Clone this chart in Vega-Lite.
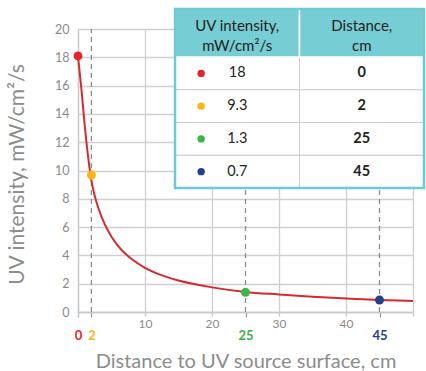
{
  "$schema": "https://vega.github.io/schema/vega-lite/v6.json",
  "width": 335,
  "height": 283,
  "autosize": {"type": "none"},
  "padding": {"left": 78, "top": 29, "right": 13, "bottom": 59},
  "background": "white",
  "config": {
    "font": "Lato",
    "view": {"stroke": null},
    "text": {"font": "Lato"},
    "axisY": {
      "values": [0, 2, 4, 6, 8, 10, 12, 14, 16, 18, 20], "grid": true,
      "gridColor": "#cfcfcf", "gridWidth": 1.3, "domain": true, "domainColor": "#c8c8c8",
      "domainWidth": 1.3, "ticks": false, "labelPadding": 9, "labelFontSize": 12.5,
      "labelOverlap": false, "labelFlush": false, "labelColor": "#8a8a8a",
      "titleFontSize": 21, "titleColor": "#8c8c8c", "titleFontWeight": "normal", "titleAngle": -90,
      "titleBaseline": "alphabetic", "titleX": -55, "titleY": 145, "titleAlign": "center"
    }
  },
  "datasets": {
    "curve": [
      {"d": 0, "uv": 18.05}, {"d": 0.5, "uv": 15.8}, {"d": 1, "uv": 13.2}, {"d": 1.5, "uv": 11.0},
      {"d": 2, "uv": 9.3}, {"d": 2.5, "uv": 8.2}, {"d": 3, "uv": 7.4}, {"d": 4, "uv": 6.19},
      {"d": 5, "uv": 5.32}, {"d": 6, "uv": 4.66}, {"d": 7, "uv": 4.15}, {"d": 8, "uv": 3.74},
      {"d": 10, "uv": 3.12}, {"d": 12, "uv": 2.68}, {"d": 15, "uv": 2.23}, {"d": 20, "uv": 1.74},
      {"d": 25, "uv": 1.42}, {"d": 30, "uv": 1.24}, {"d": 35, "uv": 1.08}, {"d": 40, "uv": 0.96},
      {"d": 45, "uv": 0.85}, {"d": 50, "uv": 0.78}
    ],
    "markers": [
      {"distance": 0, "uv": 18.1}, {"distance": 2, "uv": 9.68},
      {"distance": 25, "uv": 1.39}, {"distance": 45, "uv": 0.85}
    ],
    "table": [
      {"uv": "18", "distance": 0}, {"uv": "9.3", "distance": 2},
      {"uv": "1.3", "distance": 25}, {"uv": "0.7", "distance": 45}
    ],
    "header": [{"h": "header", "c1": "UV intensity,\nmW/cm²/s", "c2": "Distance,\ncm"}],
    "frame": [{"f": "table"}]
  },
  "layer": [
    {
      "layer": [
        {
          "data": {"name": "markers"},
          "transform": [{"filter": "datum.distance > 0"}],
          "mark": {"type": "rule", "color": "#8c8c8c", "strokeWidth": 1.3, "strokeDash": [5, 4]},
          "encoding": {
            "x": {
              "field": "distance", "type": "quantitative",
              "axis": {
                "orient": "bottom", "values": [0, 2, 25, 45], "grid": false, "domain": false,
                "ticks": true, "tickSize": 5, "tickColor": "#9a9a9a", "tickWidth": 1.2,
                "labelFontSize": 13, "labelFontWeight": "bold", "labelPadding": 12,
                "labelFlush": false, "labelOverlap": false,
                "labelColor": {
                  "condition": [
                    {"test": "datum.value == 0", "value": "#e0262c"},
                    {"test": "datum.value == 2", "value": "#fbb416"},
                    {"test": "datum.value == 25", "value": "#3cae49"}
                  ],
                  "value": "#22408e"
                },
                "title": "Distance to UV source surface, cm", "titleFontSize": 20,
                "titleColor": "#8c8c8c", "titleFontWeight": "normal",
                "titleBaseline": "alphabetic", "titleY": 55
              }
            },
            "y": {"datum": 0, "type": "quantitative", "title": "UV intensity, mW/cm²/s"},
            "y2": {"datum": 20}
          }
        },
        {
          "data": {"name": "curve"},
          "mark": {"type": "line", "color": "#d42a2f", "strokeWidth": 2, "interpolate": "monotone"},
          "encoding": {
            "x": {
              "field": "d", "type": "quantitative", "scale": {"domain": [0, 50], "nice": false},
              "axis": {
                "orient": "bottom", "values": [0, 10, 20, 30, 40, 50], "grid": true,
                "gridColor": "#cfcfcf", "gridWidth": 1.3, "domainColor": "#c8c8c8", "domainWidth": 1.3,
                "tickColor": "#c8c8c8", "tickSize": 4, "tickWidth": 1.3,
                "labelExpr": "datum.value > 0 && datum.value < 50 ? datum.label : ''",
                "labelFontSize": 12, "labelColor": "#8a8a8a", "labelPadding": 2,
                "labelFlush": false, "title": null
              }
            },
            "y": {
              "field": "uv", "type": "quantitative", "scale": {"domain": [0, 20], "nice": false},
              "title": "UV intensity, mW/cm²/s"
            }
          }
        },
        {
          "data": {"name": "markers"},
          "mark": {"type": "point", "filled": true, "opacity": 1, "size": 80},
          "encoding": {
            "x": {"field": "distance", "type": "quantitative", "axis": null},
            "y": {"field": "uv", "type": "quantitative", "title": "UV intensity, mW/cm²/s"},
            "color": {
              "field": "distance", "type": "nominal", "legend": null,
              "scale": {"domain": [0, 2, 25, 45], "range": ["#e8212b", "#fdb515", "#3cb64b", "#233f8f"]}
            }
          }
        }
      ],
      "resolve": {"axis": {"x": "independent"}}
    },
    {
      "data": {"name": "table"},
      "layer": [
        {
          "mark": {"type": "rect", "fill": "white", "stroke": "#cccccc", "strokeWidth": 1},
          "encoding": {
            "x": {"datum": 0, "type": "quantitative", "scale": {"domain": [0, 2], "range": [97, 346]}, "axis": null},
            "x2": {"datum": 1},
            "y": {"field": "uv", "type": "nominal", "scale": {"type": "band", "domain": ["18", "9.3", "1.3", "0.7"], "range": [28, 159], "paddingInner": 0, "paddingOuter": 0}, "axis": null}
          }
        },
        {
          "mark": {"type": "rect", "fill": "white", "stroke": "#cccccc", "strokeWidth": 1},
          "encoding": {
            "x": {"datum": 1, "type": "quantitative"},
            "x2": {"datum": 2},
            "y": {"field": "uv", "type": "nominal"}
          }
        },
        {
          "mark": {"type": "point", "filled": true, "opacity": 1, "size": 55},
          "encoding": {
            "x": {"datum": 0.21, "type": "quantitative"},
            "y": {"field": "uv", "type": "nominal"},
            "color": {"field": "distance", "type": "nominal", "legend": null}
          }
        },
        {
          "mark": {"type": "text", "fontSize": 14.5, "color": "#231f20", "baseline": "middle"},
          "encoding": {
            "x": {"datum": 0.5, "type": "quantitative"},
            "y": {"field": "uv", "type": "nominal"},
            "text": {"field": "uv"}
          }
        },
        {
          "mark": {"type": "text", "fontSize": 14.5, "fontWeight": "bold", "color": "#231f20", "baseline": "middle"},
          "encoding": {
            "x": {"datum": 1.5, "type": "quantitative"},
            "y": {"field": "uv", "type": "nominal"},
            "text": {"field": "distance"}
          }
        }
      ]
    },
    {
      "data": {"name": "header"},
      "layer": [
        {
          "mark": {"type": "rect", "fill": "#76cdd4", "stroke": "white", "strokeWidth": 1.5},
          "encoding": {
            "x": {"datum": 0, "type": "quantitative", "scale": {"domain": [0, 2], "range": [97, 346]}, "axis": null},
            "x2": {"datum": 1},
            "y": {"field": "h", "type": "nominal", "scale": {"type": "band", "domain": ["header"], "range": [-20, 28], "paddingInner": 0, "paddingOuter": 0}, "axis": null}
          }
        },
        {
          "mark": {"type": "rect", "fill": "#76cdd4", "stroke": "white", "strokeWidth": 1.5},
          "encoding": {
            "x": {"datum": 1, "type": "quantitative"},
            "x2": {"datum": 2},
            "y": {"field": "h", "type": "nominal"}
          }
        },
        {
          "mark": {"type": "text", "fontSize": 15, "color": "#231f20", "baseline": "middle", "lineBreak": "\n", "lineHeight": 20, "dy": -7},
          "encoding": {
            "x": {"datum": 0.5, "type": "quantitative"},
            "y": {"field": "h", "type": "nominal"},
            "text": {"field": "c1"}
          }
        },
        {
          "mark": {"type": "text", "fontSize": 15, "color": "#231f20", "baseline": "middle", "lineBreak": "\n", "lineHeight": 20, "dy": -7},
          "encoding": {
            "x": {"datum": 1.5, "type": "quantitative"},
            "y": {"field": "h", "type": "nominal"},
            "text": {"field": "c2"}
          }
        }
      ]
    },
    {
      "data": {"name": "frame"},
      "mark": {"type": "rect", "fill": "transparent", "stroke": "#6fcbd3", "strokeWidth": 2.5},
      "encoding": {
        "x": {"datum": 0, "type": "quantitative", "scale": {"domain": [0, 2], "range": [97, 346]}, "axis": null},
        "x2": {"datum": 2},
        "y": {"field": "f", "type": "nominal", "scale": {"type": "band", "domain": ["table"], "range": [-20, 159], "paddingInner": 0, "paddingOuter": 0}, "axis": null}
      }
    }
  ],
  "resolve": {"scale": {"x": "independent", "y": "independent"}}
}
